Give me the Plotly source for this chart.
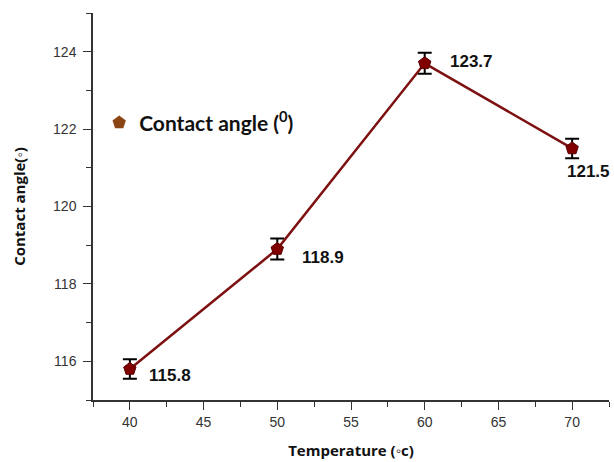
import plotly.graph_objects as go

temperature = [40, 50, 60, 70]
contact_angle = [115.8, 118.9, 123.7, 121.5]
error = [0.25, 0.27, 0.27, 0.25]
value_labels = ["115.8", "118.9", "123.7", "121.5"]
label_shift_x = [17, 23, 23, -7]
label_shift_y = [-6, -8, 2, -23]

fig = go.Figure()

fig.add_trace(go.Scatter(
    x=temperature, y=contact_angle,
    mode="lines+markers",
    line=dict(color="#7d1010", width=2.5),
    marker=dict(symbol="pentagon", size=13, color="#800000",
                line=dict(color="#5a0000", width=1)),
    error_y=dict(type="data", array=error, visible=True,
                 color="black", thickness=2, width=7),
    showlegend=False,
))

fig.add_trace(go.Scatter(
    x=[None], y=[None], mode="markers",
    name="<b>Contact angle (<sup>0</sup>)</b>",
    marker=dict(symbol="pentagon", size=14, color="#8B4513"),
    showlegend=True,
))

for x, y, t, dx, dy in zip(temperature, contact_angle, value_labels,
                           label_shift_x, label_shift_y):
    fig.add_annotation(x=x, y=y, text=f"<b>{t}</b>", showarrow=False,
                       xanchor="left", yanchor="middle",
                       xshift=dx, yshift=dy,
                       font=dict(family="Liberation Sans, Arial", size=17, color="#111"))

axis_common = dict(
    showline=True, linecolor="#333", linewidth=1.5,
    ticks="outside", ticklen=8, tickwidth=1.2, tickcolor="#333",
    showgrid=False, zeroline=False,
    tickfont=dict(family="Liberation Sans, Arial", size=14, color="#333"),
)

fig.update_xaxes(
    range=[37.5, 72.5], tickvals=[40, 45, 50, 55, 60, 65, 70],
    minor=dict(ticks="outside", ticklen=5, tickcolor="#333", dtick=2.5, tick0=37.5, showgrid=False),
    title=dict(text="<b>Temperature (◦c)</b>", standoff=17,
               font=dict(family="Open Sans", size=15, color="#111")),
    **axis_common,
)
fig.update_yaxes(
    range=[115, 125], tickvals=[116, 118, 120, 122, 124],
    minor=dict(ticks="outside", ticklen=5, tickcolor="#333", dtick=1, tick0=115, showgrid=False),
    ticklabelstandoff=4,
    title=dict(text="<b>Contact angle(◦)</b>", standoff=24,
               font=dict(family="Open Sans", size=15, color="#111")),
    **axis_common,
)

fig.update_layout(
    width=614, height=462,
    margin=dict(l=93, r=5, t=13, b=58),
    plot_bgcolor="white", paper_bgcolor="white",
    legend=dict(x=0.012, y=0.716, xanchor="left", yanchor="middle",
                bgcolor="rgba(0,0,0,0)", itemwidth=30,
                font=dict(family="Lato", size=21, color="#111")),
)

fig.write_html("out.html", config={"displayModeBar": False},
               post_script="document.body.style.margin='0';")
